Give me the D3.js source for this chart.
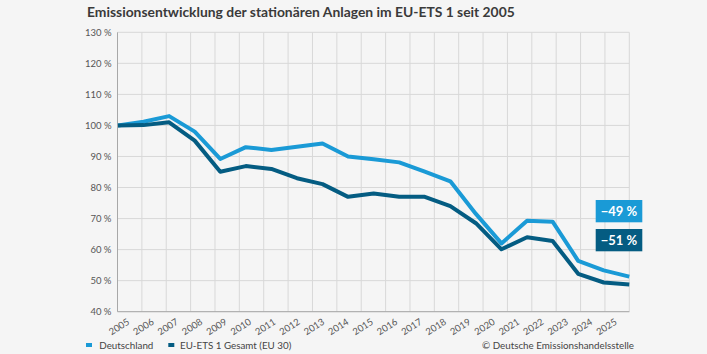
<!DOCTYPE html>
<html><head><meta charset="utf-8">
<script src="https://cdn.jsdelivr.net/npm/d3@7"></script>
<style>
html,body{margin:0;padding:0;background:#f5f5f5;}
svg{display:block;font-family:Lato,"Open Sans",sans-serif;}
</style></head>
<body><svg id="c" width="707" height="354"></svg>
<script>
const title = "Emissionsentwicklung der stationären Anlagen im EU-ETS 1 seit 2005";
const years = ["2005","2006","2007","2008","2009","2010","2011","2012","2013","2014","2015","2016","2017","2018","2019","2020","2021","2022","2023","2024","2025"];
const deutschland = [100,101.2,103,98,89.2,93,92.1,93.1,94.2,90,89.1,88.1,85.1,82,71.5,62,69.3,69,56.4,53.3,51.3];
const euEts = [100,100.1,101,95.1,85.1,86.9,86,83,81.1,77,78.1,77,77,74,68.5,60.1,64,62.8,52.2,49.4,48.8];
const yTicks = [40,50,60,70,80,90,100,110,120,130];
const seriesNames = ["Deutschland","EU-ETS 1 Gesamt (EU 30)"];
const endLabels = ["\u221249 %","\u221251 %"];
const source = "© Deutsche Emissionshandelsstelle";

const colDE = "#1a9ad6", colEU = "#045c82";
const svg = d3.select("#c");
const L = 117.5, R = 629.3, T = 32.3, B = 311.7;

const y = d3.scaleLinear().domain([40,130]).range([B,T]);
const xp = d3.scalePoint().domain(years).range([L+0.5,R]);
const xb = d3.scaleBand().domain(years).range([L,R]);

// horizontal grid
svg.append("g").selectAll("line").data(yTicks).join("line")
  .attr("x1",L).attr("x2",R).attr("y1",d=>y(d)).attr("y2",d=>y(d))
  .attr("stroke","#d8d8d8").attr("stroke-width",1);
// vertical grid at band edges
const edges = years.map(d=>xb(d)).concat([xb(years[years.length-1])+xb.bandwidth()]);
svg.append("g").selectAll("line").data(edges.slice(1)).join("line")
  .attr("x1",d=>d).attr("x2",d=>d).attr("y1",T).attr("y2",B)
  .attr("stroke","#d8d8d8").attr("stroke-width",1);
// axes lines
svg.append("line").attr("x1",L).attr("x2",L).attr("y1",T).attr("y2",B).attr("stroke","#a8a8a8");
svg.append("line").attr("x1",L).attr("x2",R).attr("y1",B).attr("y2",B).attr("stroke","#a8a8a8");

// y labels
svg.append("g").selectAll("text").data(yTicks).join("text")
  .attr("x",111.5).attr("y",d=>y(d)+3.3).attr("text-anchor","end")
  .attr("font-size",9.5).attr("fill","#555").text(d=>d+" %");

// x labels
svg.append("g").selectAll("text").data(years).join("text")
  .attr("transform",d=>`translate(${xb(d)+xb.bandwidth()/2+0.5},${B+12}) rotate(-32)`)
  .attr("text-anchor","end").attr("font-size",9.5).attr("fill","#555").text(d=>d);

// lines
const line = d3.line().x((d,i)=>xp(years[i])).y(d=>y(d));
svg.append("path").datum(deutschland).attr("d",line).attr("fill","none")
  .attr("stroke",colDE).attr("stroke-width",4).attr("stroke-linejoin","round");
svg.append("path").datum(euEts).attr("d",line).attr("fill","none")
  .attr("stroke",colEU).attr("stroke-width",4).attr("stroke-linejoin","round");

// end labels
const lab = svg.append("g");
[[endLabels[0],colDE,200],[endLabels[1],colEU,229]].forEach(([t,c,yy])=>{
  lab.append("rect").attr("x",595.7).attr("y",yy).attr("width",46.6).attr("height",22.3).attr("fill",c);
  lab.append("text").attr("x",619).attr("y",yy+15.5).attr("text-anchor","middle")
    .attr("font-size",13).attr("font-weight","bold").attr("fill","#fff").text(t);
});

// title
const tt = svg.append("text").attr("x",87).attr("y",17).attr("font-size",16)
  .attr("font-weight","bold").attr("fill","#3a3a3a").text(title);
const tl = tt.node().getComputedTextLength();
tt.attr("font-size",16*428/tl);

// legend
const lg = svg.append("g");
lg.append("rect").attr("x",86).attr("y",343).attr("width",6).attr("height",4).attr("fill",colDE);
lg.append("text").attr("x",99.3).attr("y",348.7).attr("font-size",9.8).attr("fill","#444").text(seriesNames[0]);
lg.append("rect").attr("x",168.3).attr("y",343).attr("width",6).attr("height",4).attr("fill",colEU);
lg.append("text").attr("x",180).attr("y",348.7).attr("font-size",9.8).attr("fill","#444").text(seriesNames[1]);
svg.append("text").attr("x",634).attr("y",348.7).attr("text-anchor","end").attr("font-size",9.8).attr("fill","#444").text(source);
</script></body></html>
